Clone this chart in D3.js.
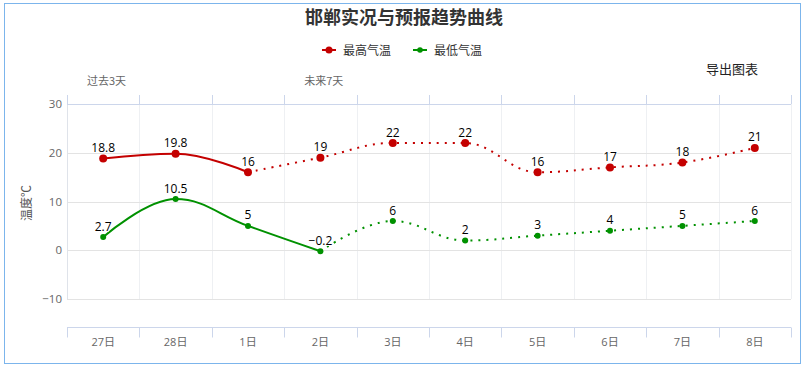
<!DOCTYPE html>
<html>
<head>
<meta charset="utf-8">
<script src="https://cdn.jsdelivr.net/npm/d3@7"></script>
<style>
  html, body { margin: 0; padding: 0; background: #fff; }
  svg { display: block; font-family: "Open Sans", "Noto Sans CJK SC", sans-serif; }
</style>
</head>
<body>
<svg id="chart" width="809" height="367"></svg>
<script>
const categories = ["27日", "28日", "1日", "2日", "3日", "4日", "5日", "6日", "7日", "8日"];
const highTemps = [18.8, 19.8, 16, 19, 22, 22, 16, 17, 18, 21];
const lowTemps = [2.7, 10.5, 5, -0.2, 6, 2, 3, 4, 5, 6];
const highObservedCount = 3;  // solid part of the high series
const lowObservedCount = 4;   // solid part of the low series
const yTicks = [-10, 0, 10, 20, 30];
const seriesNames = ["最高气温", "最低气温"];
const titleText = "邯郸实况与预报趋势曲线";
const yTitle = "温度℃";
const bandLabels = [{text: "过去3天", cat: "27日"}, {text: "未来7天", cat: "2日"}];

const RED = "#c40000", GREEN = "#009100";
const svg = d3.select("#chart");

const x = d3.scaleBand().domain(categories).range([67, 791]).padding(0);
const y = d3.scaleLinear().domain([-10, 30]).range([299, 104]);
const cx = c => x(c) + x.bandwidth() / 2;
const boundaries = categories.map(c => x(c)).concat([x.range()[1]]);

// outer border
svg.append("rect").attr("x", 4.5).attr("y", 3.5).attr("width", 796).attr("height", 360)
  .attr("fill", "none").attr("stroke", "#7cb5ec").attr("stroke-width", 1);

// title
svg.append("text").attr("x", 404).attr("y", 24).attr("text-anchor", "middle")
  .attr("font-size", 18).attr("font-weight", "bold").attr("fill", "#333")
  .attr("font-family", "'Noto Sans CJK SC', sans-serif").text(titleText);

// legend
const legend = [{name: seriesNames[0], color: RED, x: 322, r: 3.5}, {name: seriesNames[1], color: GREEN, x: 413, r: 2.8}];
legend.forEach(l => {
  const g = svg.append("g");
  g.append("line").attr("x1", l.x).attr("x2", l.x + 14).attr("y1", 50).attr("y2", 50)
    .attr("stroke", l.color).attr("stroke-width", 2);
  g.append("circle").attr("cx", l.x + 7).attr("cy", 50).attr("r", l.r).attr("fill", l.color);
  g.append("text").attr("x", l.x + 21).attr("y", 54.5).attr("font-size", 12).attr("fill", "#333")
    .attr("font-family", "'Noto Sans CJK SC', sans-serif").text(l.name);
});

// export label
svg.append("text").attr("x", 706).attr("y", 73.5).attr("font-size", 13).attr("fill", "#222")
  .attr("font-family", "'Noto Sans CJK SC', sans-serif").text("导出图表");

// band labels
bandLabels.forEach(b => {
  svg.append("text").attr("x", x(b.cat) + 20).attr("y", 85).attr("font-size", 11).attr("fill", "#666")
    .attr("font-family", "'Noto Sans CJK SC', sans-serif").text(b.text);
});

// vertical grid lines
svg.append("g").selectAll("line").data(boundaries).join("line")
  .attr("x1", d => Math.round(d) + 0.5).attr("x2", d => Math.round(d) + 0.5)
  .attr("y1", y(30)).attr("y2", y(-10)).attr("stroke", "#eef0f3").attr("stroke-width", 1);

// horizontal grid lines
svg.append("g").selectAll("line").data(yTicks).join("line")
  .attr("x1", x.range()[0]).attr("x2", x.range()[1])
  .attr("y1", d => Math.round(y(d)) + 0.5).attr("y2", d => Math.round(y(d)) + 0.5)
  .attr("stroke", "#e3e3e3").attr("stroke-width", 1);

// left axis line
svg.append("line").attr("x1", 67.5).attr("x2", 67.5).attr("y1", 95).attr("y2", y(-10))
  .attr("stroke", "#dfe3ea");

// top axis (ticks only, line on top grid)
svg.append("line").attr("x1", x.range()[0]).attr("x2", x.range()[1])
  .attr("y1", Math.round(y(30)) + 0.5).attr("y2", Math.round(y(30)) + 0.5).attr("stroke", "#ccd6eb");
svg.append("g").selectAll("line").data(boundaries).join("line")
  .attr("x1", d => Math.round(d) + 0.5).attr("x2", d => Math.round(d) + 0.5)
  .attr("y1", 95).attr("y2", y(30)).attr("stroke", "#ccd6eb");

// bottom axis (offset)
const axisY = 327.5;
svg.append("line").attr("x1", x.range()[0]).attr("x2", x.range()[1])
  .attr("y1", axisY).attr("y2", axisY).attr("stroke", "#ccd6eb");
svg.append("g").selectAll("line").data(boundaries).join("line")
  .attr("x1", d => Math.round(d) + 0.5).attr("x2", d => Math.round(d) + 0.5)
  .attr("y1", axisY).attr("y2", axisY + 10).attr("stroke", "#ccd6eb");
svg.append("g").selectAll("text").data(categories).join("text")
  .attr("x", d => cx(d)).attr("y", 345.5).attr("text-anchor", "middle")
  .attr("font-size", 11).attr("fill", "#666").text(d => d);

// y tick labels
const fmt = d3.format("~g");
svg.append("g").selectAll("text").data(yTicks).join("text")
  .attr("x", 62).attr("y", d => y(d) + 4).attr("text-anchor", "end")
  .attr("font-size", 11.5).attr("fill", "#666").text(d => fmt(d));

// y title
svg.append("text").attr("transform", "translate(31,203) rotate(-90)")
  .attr("text-anchor", "middle").attr("font-size", 12).attr("fill", "#555")
  .attr("font-family", "'Noto Sans CJK SC', sans-serif").text(yTitle);

// Highcharts-like spline
function spline(pts) {
  const s = 1.5, den = s + 1;
  const p = d3.path();
  p.moveTo(pts[0][0], pts[0][1]);
  let prevRight = null;
  for (let i = 1; i < pts.length; i++) {
    const [px, py] = pts[i];
    let left = null, right = null;
    if (i < pts.length - 1) {
      const [lx, ly] = pts[i - 1], [nx, ny] = pts[i + 1];
      let lcx = (s * px + lx) / den, lcy = (s * py + ly) / den;
      let rcx = (s * px + nx) / den, rcy = (s * py + ny) / den;
      let corr = 0;
      if (rcx !== lcx) corr = ((rcy - lcy) * (rcx - px)) / (rcx - lcx) + py - rcy;
      lcy += corr; rcy += corr;
      if (lcy > ly && lcy > py) { lcy = Math.max(ly, py); rcy = 2 * py - lcy; }
      else if (lcy < ly && lcy < py) { lcy = Math.min(ly, py); rcy = 2 * py - lcy; }
      if (rcy > ny && rcy > py) { rcy = Math.max(ny, py); lcy = 2 * py - rcy; }
      else if (rcy < ny && rcy < py) { rcy = Math.min(ny, py); lcy = 2 * py - rcy; }
      left = [lcx, lcy]; right = [rcx, rcy];
    }
    const c1 = prevRight || pts[i - 1];
    const c2 = left || pts[i];
    p.bezierCurveTo(c1[0], c1[1], c2[0], c2[1], px, py);
    prevRight = right;
  }
  return p.toString();
}

function drawSeries(values, solidCount, color, markerR) {
  const pts = values.map((v, i) => [cx(categories[i]), y(v)]);
  const solid = pts.slice(0, solidCount);
  const dotted = pts.slice(solidCount - 1);
  svg.append("path").attr("d", spline(solid)).attr("fill", "none")
    .attr("stroke", color).attr("stroke-width", 2).attr("stroke-linejoin", "round").attr("stroke-linecap", "round");
  svg.append("path").attr("d", spline(dotted)).attr("fill", "none")
    .attr("stroke", color).attr("stroke-width", 2).attr("stroke-dasharray", "2,6");
  svg.append("g").selectAll("circle").data(pts).join("circle")
    .attr("cx", d => d[0]).attr("cy", d => d[1]).attr("r", markerR).attr("fill", color);
  const lf = d3.format("~f");
  svg.append("g").selectAll("text").data(values).join("text")
    .attr("x", (d, i) => pts[i][0]).attr("y", (d, i) => pts[i][1] - 6.5)
    .attr("text-anchor", "middle").attr("font-size", 12).attr("fill", "#000")
    .attr("stroke", "#fff").attr("stroke-width", 2).attr("paint-order", "stroke")
    .text(d => lf(d));
}

drawSeries(highTemps, highObservedCount, RED, 4);
drawSeries(lowTemps, lowObservedCount, GREEN, 3);
</script>
</body>
</html>
